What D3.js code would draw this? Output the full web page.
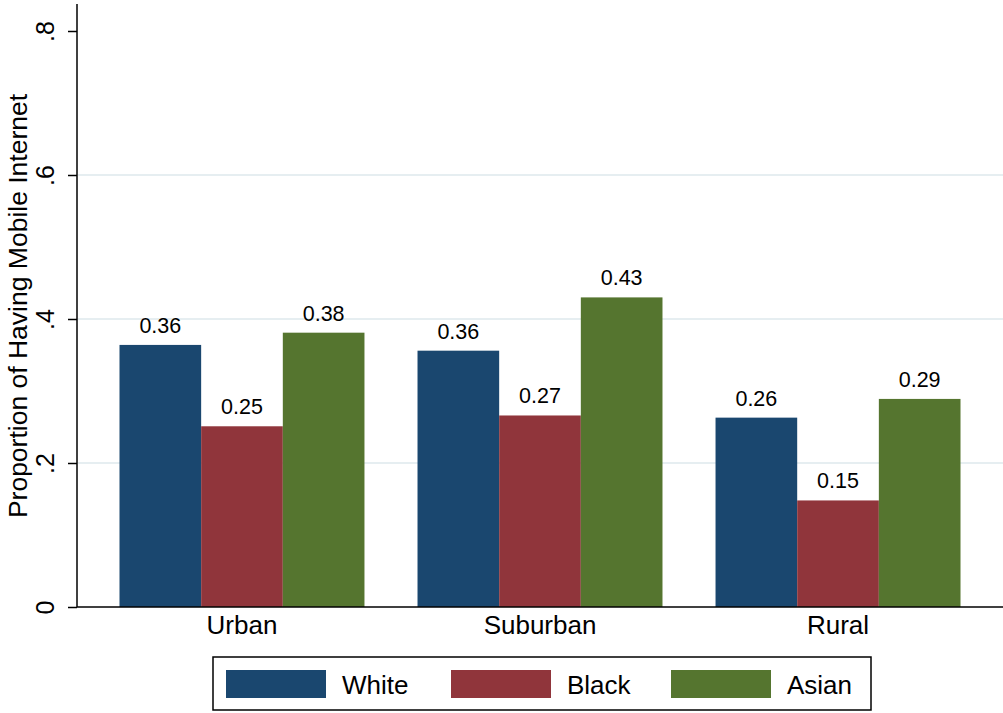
<!DOCTYPE html>
<html><head><meta charset="utf-8">
<script src="https://cdn.jsdelivr.net/npm/d3@7"></script>
<style>body{margin:0;background:#fff}svg{display:block}text{font-family:"Liberation Sans",Arial,sans-serif}</style>
</head><body><div id="chart"></div>
<script>
const categories = ["Urban", "Suburban", "Rural"];
const seriesNames = ["White", "Black", "Asian"];
const white = [0.364, 0.356, 0.263];
const black = [0.251, 0.266, 0.148];
const asian = [0.381, 0.430, 0.289];
const yTicks = [0, 0.2, 0.4, 0.6, 0.8];
const yTickLabels = ["0", ".2", ".4", ".6", ".8"];
const colors = ["#1a476f", "#90353b", "#55752f"];

const W = 1003, H = 713;
const svg = d3.select("#chart").append("svg").attr("width", W).attr("height", H);
const y = d3.scaleLinear().domain([0, 0.8]).range([607, 31]);
const x0 = d3.scaleBand().domain(categories).range([77, 1003]).paddingInner(0.178).paddingOuter(0.1426);
const x1 = d3.scaleBand().domain(seriesNames).range([0, x0.bandwidth()]).padding(0);
const FONT = "Liberation Sans, Arial, sans-serif";

// gridlines
svg.append("g").selectAll("line").data(yTicks.filter(t => t > 0 && t < 0.8)).join("line")
  .attr("x1", 78).attr("x2", 1003).attr("y1", d => y(d)).attr("y2", d => y(d))
  .attr("stroke", "#e6eef1").attr("stroke-width", 2);

const rows = categories.map((c, i) => ({cat: c, vals: [white[i], black[i], asian[i]]}));
const g = svg.append("g");
rows.forEach(r => {
  r.vals.forEach((v, j) => {
    const xx = x0(r.cat) + x1(seriesNames[j]);
    g.append("rect").attr("x", xx).attr("y", y(v)).attr("width", x1.bandwidth()).attr("height", y(0) - y(v))
      .attr("fill", colors[j]);
    g.append("text").attr("x", xx + x1.bandwidth() / 2).attr("y", y(v) - 12)
      .attr("text-anchor", "middle").attr("font-size", 21.5).attr("fill", "#000").text(v.toFixed(2));
  });
});

// y axis
const yAxis = d3.axisLeft(y).tickValues(yTicks).tickFormat((d, i) => yTickLabels[i]).tickSize(9).tickSizeOuter(0);
const ya = svg.append("g").attr("transform", "translate(77,0)").call(yAxis);
ya.select(".domain").attr("d", "M0,4V607").attr("stroke", "#000").attr("stroke-width", 1.5);
ya.selectAll(".tick line").attr("stroke", "#000").attr("stroke-width", 1.5);
ya.selectAll(".tick text").attr("font-size", 25).attr("fill", "#000").attr("font-family", FONT)
  .attr("x", null).attr("y", null).attr("dy", null)
  .attr("text-anchor", "middle").attr("transform", "translate(-23,0) rotate(-90)");

// x axis
const xAxis = d3.axisBottom(x0).tickSize(0).tickSizeOuter(0);
const xa = svg.append("g").attr("transform", "translate(0,607)").call(xAxis);
xa.select(".domain").attr("d", "M77,0H1003").attr("stroke", "#000").attr("stroke-width", 1.5);
xa.selectAll(".tick text").attr("font-size", 26).attr("fill", "#000").attr("y", 9).attr("dy", "0.71em")
  .attr("font-family", FONT);

// y title
svg.append("text").attr("transform", "translate(27,306) rotate(-90)").attr("text-anchor", "middle")
  .attr("font-size", 26.5).attr("fill", "#000").text("Proportion of Having Mobile Internet");

// legend
const lg = svg.append("g");
lg.append("rect").attr("x", 213).attr("y", 657).attr("width", 658).attr("height", 53)
  .attr("fill", "#fff").attr("stroke", "#000").attr("stroke-width", 1.5);
const legX = [226, 451, 671];
seriesNames.forEach((s, j) => {
  lg.append("rect").attr("x", legX[j]).attr("y", 670).attr("width", 100).attr("height", 28).attr("fill", colors[j]);
  lg.append("text").attr("x", legX[j] + 116).attr("y", 685).attr("dy", "0.35em").attr("font-size", 26)
    .attr("fill", "#000").text(s);
});
</script></body></html>
